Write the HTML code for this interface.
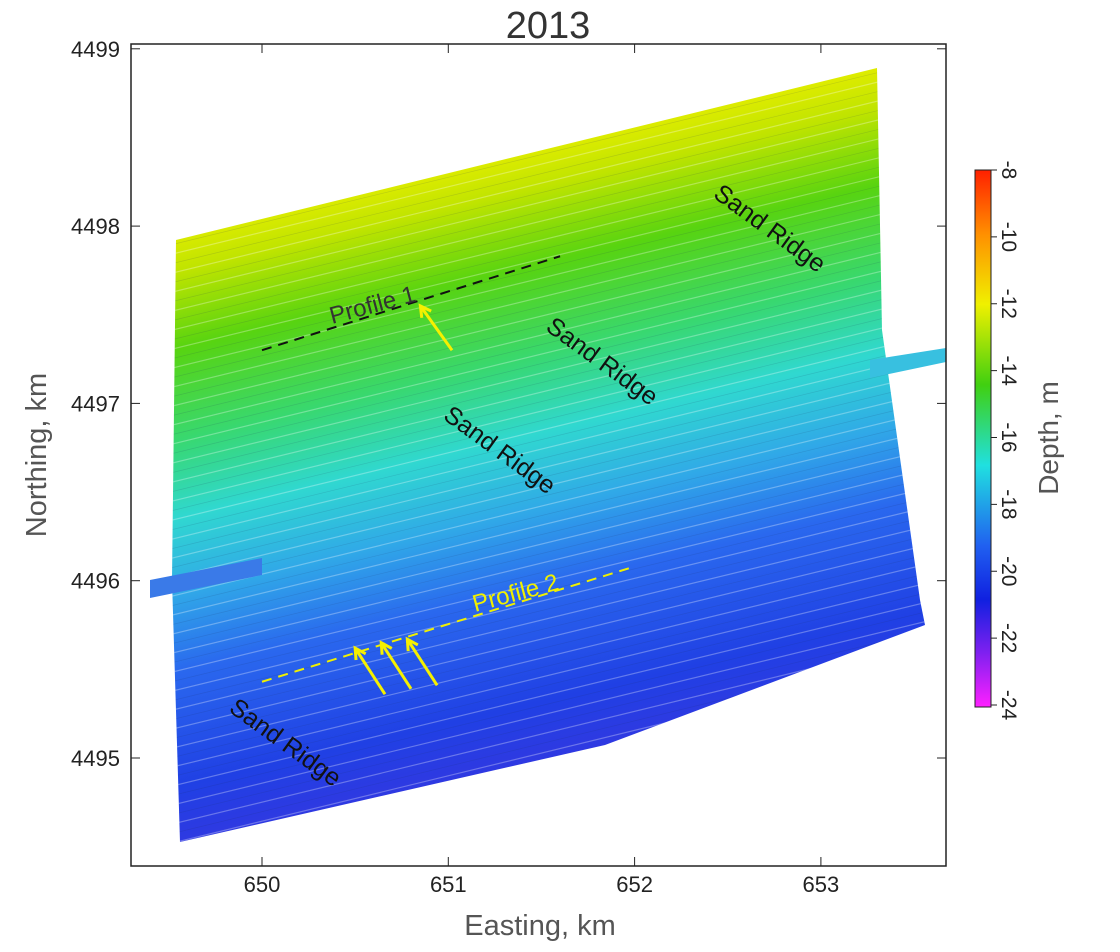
<!DOCTYPE html>
<html><head><meta charset="utf-8"><style>
body{margin:0;background:#fff;width:1120px;height:947px;overflow:hidden;font-family:"Liberation Sans",sans-serif}
</style></head><body>
<svg id="chart" width="1120" height="947" viewBox="0 0 1120 947">
<defs>
<linearGradient id="depthGrad" gradientUnits="userSpaceOnUse" x1="520" y1="130" x2="690" y2="860">
<stop offset="0" stop-color="#eef000"/>
<stop offset="0.08" stop-color="#c0e400"/>
<stop offset="0.18" stop-color="#58d410"/>
<stop offset="0.3" stop-color="#38d870"/>
<stop offset="0.4" stop-color="#30d8d0"/>
<stop offset="0.5" stop-color="#30a8e8"/>
<stop offset="0.6" stop-color="#2a68ee"/>
<stop offset="0.75" stop-color="#2040e4"/>
<stop offset="0.88" stop-color="#3a34e0"/>
<stop offset="1" stop-color="#8a2ce8"/>
</linearGradient>
<linearGradient id="cbGrad" x1="0" y1="0" x2="0" y2="1">
<stop offset="0" stop-color="#ff2000"/><stop offset="0.12" stop-color="#ff9000"/>
<stop offset="0.25" stop-color="#f0f000"/><stop offset="0.4" stop-color="#40d010"/>
<stop offset="0.55" stop-color="#20e0e0"/><stop offset="0.7" stop-color="#2060f0"/>
<stop offset="0.8" stop-color="#1020e0"/><stop offset="0.9" stop-color="#8020f0"/>
<stop offset="1" stop-color="#ff20ff"/>
</linearGradient>
<clipPath id="surveyClip"><polygon points="176,240 877,68 882,330 920,600 925,625 605,745 180,842 172,580"/></clipPath>
</defs>
<text x="548" y="38" font-size="38" text-anchor="middle" fill="#333">2013</text>
<g id="survey">
<polygon points="176,240 877,68 882,330 920,600 925,625 605,745 180,842 172,580" fill="url(#depthGrad)"/>
<g id="stripes" clip-path="url(#surveyClip)"></g>
<polygon points="150,580 262,558 262,575 150,598" fill="#3a7ae8"/>
<polygon points="870,360 946,348 946,362 870,378" fill="#38c0e0"/>
</g>
<g id="ann"></g>
<rect x="131" y="44" width="815" height="822" fill="none" stroke="#222" stroke-width="1.5"/>
<g id="axes"></g>
<text x="540" y="935" font-size="29" text-anchor="middle" fill="#555">Easting, km</text>
<text transform="translate(46,455) rotate(-90)" font-size="29" text-anchor="middle" fill="#555">Northing, km</text>
<rect x="975" y="170" width="16" height="537" fill="url(#cbGrad)" stroke="#222" stroke-width="1"/>
<g id="cb"></g>
<text transform="translate(1058,438) rotate(-90)" font-size="28" text-anchor="middle" fill="#555">Depth, m</text>
</svg>
<script>
const xTicks=[650,651,652,653];
const yTicks=[4495,4496,4497,4498,4499];
const cbTicks=[-8,-10,-12,-14,-16,-18,-20,-22,-24];
const profile1=[[650,4497.3],[651.6,4497.83]];
const profile2=[[650,4495.43],[652,4496.08]];
const ridgeLabels=[[652.7,4497.95,"Sand Ridge"],[651.8,4497.2,"Sand Ridge"],[651.25,4496.7,"Sand Ridge"],[650.1,4495.05,"Sand Ridge"]];
const arrows=[[651.02,4497.3,650.85,4497.55],[650.66,4495.36,650.5,4495.62],[650.8,4495.39,650.64,4495.65],[650.94,4495.41,650.78,4495.67]];
const X=v=>262+(v-650)*186.3;
const Y=v=>758-(v-4495)*177.3;
const C=v=>170+(-8-v)/16*535;
const NS="http://www.w3.org/2000/svg";
function mk(tag,attrs,parent,txt){const e=document.createElementNS(NS,tag);for(const k in attrs)e.setAttribute(k,attrs[k]);if(txt!==undefined)e.textContent=txt;parent.appendChild(e);return e;}
const axes=document.getElementById('axes');
xTicks.forEach(t=>{
 const l=mk('line',{x1:X(t),x2:X(t),y1:866,y2:857,stroke:'#222'},axes);
 
 
 const l2=mk('line',{x1:X(t),x2:X(t),y1:44,y2:53,stroke:'#222'},axes);
 
 
 const tx=mk('text',{x:X(t),y:892,'font-size':22,'text-anchor':'middle',fill:'#222'},axes,t);
 
 
});
yTicks.forEach(t=>{
 const l=mk('line',{x1:131,x2:140,y1:Y(t),y2:Y(t),stroke:'#222'},axes);
 
 
 const l2=mk('line',{x1:937,x2:946,y1:Y(t),y2:Y(t),stroke:'#222'},axes);
 
 
 const tx=mk('text',{x:120,y:Y(t)+8,'font-size':22,'text-anchor':'end',fill:'#222'},axes,t);
 
 
});
const cb=document.getElementById('cb');
cbTicks.forEach(t=>{
 const l=mk('line',{x1:991,x2:997,y1:C(t),y2:C(t),stroke:'#222'},cb);
 
 
 const tx=mk('text',{transform:`translate(1002,${C(t)}) rotate(90)`,'font-size':21,'text-anchor':'middle',fill:'#222'},cb,t);
 
 
});
const st=document.getElementById('stripes');
for(let i=0;i<70;i++){
 const y0=250+i*9.5;
 const l=mk('line',{x1:150,y1:y0,x2:950,y2:y0-195,stroke:i%2?'#ffffff':'#203060','stroke-width':i%2?1.2:0.7,opacity:i%2?0.3:0.15},st);
 
 
}
const ann=document.getElementById('ann');
function dash(p,color,name){const l=mk('line',{x1:X(p[0][0]),y1:Y(p[0][1]),x2:X(p[1][0]),y2:Y(p[1][1]),stroke:color,'stroke-width':2,'stroke-dasharray':'10 7'},ann);}
dash(profile1,'#111','profile-1-line');
dash(profile2,'#f0f000','profile-2-line');
const p1=mk('text',{transform:`translate(332,324) rotate(-15)`,'font-size':24,fill:'#333'},ann,'Profile 1');


const p2=mk('text',{transform:`translate(475,612) rotate(-15)`,'font-size':24,fill:'#f0f000'},ann,'Profile 2');


ridgeLabels.forEach(r=>{
 const t=mk('text',{transform:`translate(${X(r[0])},${Y(r[1])}) rotate(36)`,'font-size':25,'text-anchor':'middle',fill:'#111'},ann,r[2]);
 
 
});
arrows.forEach(a=>{
 const x1=X(a[0]),y1=Y(a[1]),x2=X(a[2]),y2=Y(a[3]);
 const g=mk('g',{},ann);
 
 
 mk('line',{x1,y1,x2,y2,stroke:'#f5f000','stroke-width':3},g);
 const ang=Math.atan2(y2-y1,x2-x1);
 const h=(d)=>[x2-12*Math.cos(ang+d),y2-12*Math.sin(ang+d)];
 const a1=h(0.5),a2=h(-0.5);
 mk('polyline',{points:`${a1} ${x2},${y2} ${a2}`,fill:'none',stroke:'#f5f000','stroke-width':3},g);
});
</script>
</body></html>
